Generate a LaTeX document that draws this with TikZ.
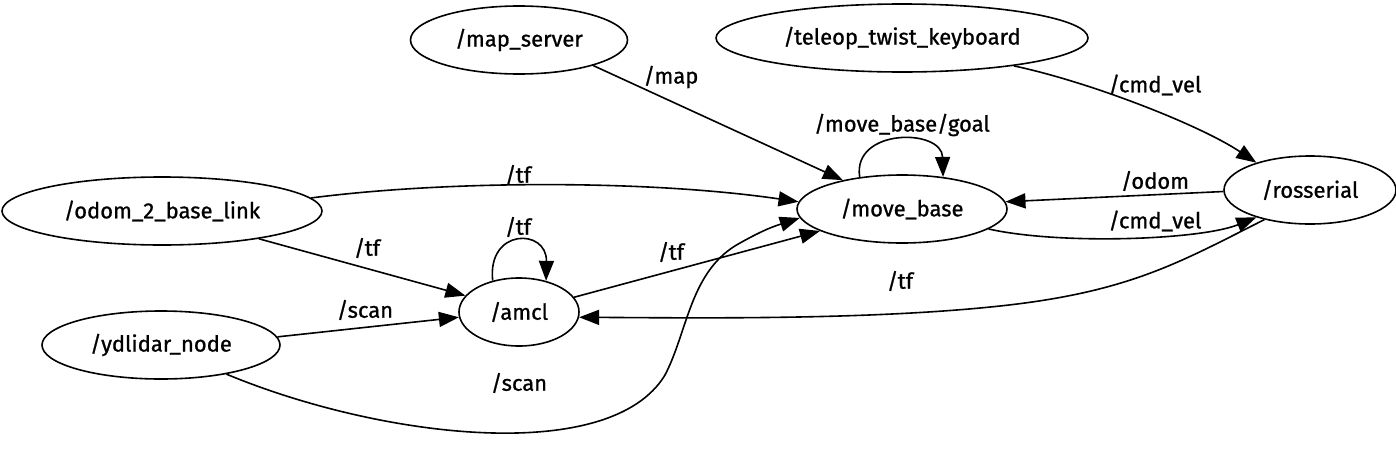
\documentclass[tikz,border=0pt]{standalone}
\usepackage{fontspec}
\setmainfont{Fira Sans}[FakeBold=0.9]
\usetikzlibrary{shapes.geometric,arrows.meta}

\begin{document}
\begin{tikzpicture}[x=1pt, y=-1pt,
    rosnode/.style={draw=black, ellipse, line width=1.6pt, minimum height=68pt, inner sep=0pt, font=\fontsize{22}{26}\selectfont},
    topic/.style={inner sep=0pt, font=\fontsize{22}{26}\selectfont},
    link/.style={draw=black, line width=1.6pt, -{Triangle[length=20pt, width=15pt]}}]
        \useasboundingbox (0,0) rectangle (1396,466);

        % ros nodes
        \node[rosnode, minimum width=217pt] (map_server) at (519,40) {/map\_server};
        \node[rosnode, minimum width=372pt] (teleop) at (902,38) {/teleop\_twist\_keyboard};
        \node[rosnode, minimum width=320pt] (odom_link) at (162,211) {/odom\_2\_base\_link};
        \node[rosnode, minimum width=210pt] (move_base) at (902,209) {/move\_base};
        \node[rosnode, minimum width=172pt] (rosserial) at (1310,190) {/rosserial};
        \node[rosnode, minimum width=120pt] (amcl) at (519,312) {/amcl};
        \node[rosnode, minimum width=238pt] (ydlidar) at (161,345) {/ydlidar\_node};

        % topics
        \draw[link] (map_server.-19) -- (move_base.154);
        \draw[link] (teleop.-14) .. controls (1090,82) and (1200,125) .. (rosserial.153);
        \draw[link] (move_base.143) .. controls (852,128) and (942,128) .. (move_base.38);
        \draw[link] (odom_link.5.5) .. controls (450,180) and (650,180) .. (move_base.176);
        \draw[link] (rosserial.181) -- (move_base.4);
        \draw[link] (move_base.-13) .. controls (1060,245) and (1200,240) .. (rosserial.207);
        \draw[link] (odom_link.-16) -- (amcl.163);
        \draw[link] (amcl.130) .. controls (487,228) and (547,228) .. (amcl.49);
        \draw[link] (amcl.15) -- (move_base.195);
        \draw[link] (rosserial.213) .. controls (1180,262) and (1130,292) .. (1000,306)
                .. controls (870,320) and (700,318) .. (amcl.-5);
        \draw[link] (ydlidar.4) -- (amcl.185);
        \draw[link] (ydlidar.-24) .. controls (380,438) and (610,466) .. (665,375)
                .. controls (688,331) and (690,270) .. (740,243)
                .. controls (765,229) and (775,226) .. (move_base.185);

        % topic labels
        \node[topic] (lbl_map) at (671,77) {/map};
        \node[topic] (lbl_cmd_top) at (1155,85) {/cmd\_vel};
        \node[topic] (lbl_goal) at (902,125) {/move\_base/goal};
        \node[topic] (lbl_tf_top) at (518,175) {/tf};
        \node[topic] (lbl_odom) at (1155,181) {/odom};
        \node[topic] (lbl_cmd_low) at (1155,221) {/cmd\_vel};
        \node[topic] (lbl_tf_odom) at (367,248) {/tf};
        \node[topic] (lbl_tf_loop) at (518,227) {/tf};
        \node[topic] (lbl_tf_amcl) at (671,252) {/tf};
        \node[topic] (lbl_tf_ros) at (900,281) {/tf};
        \node[topic] (lbl_scan_amcl) at (365,310) {/scan};
        \node[topic] (lbl_scan_low) at (519,383) {/scan};

\end{tikzpicture}
\end{document}
